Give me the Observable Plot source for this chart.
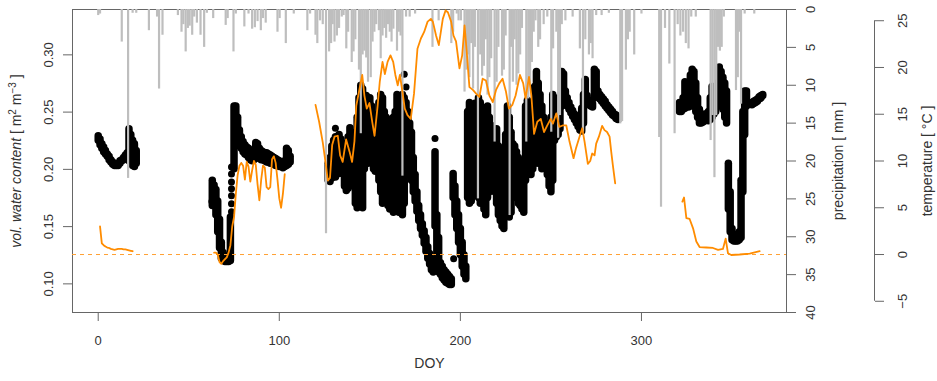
<!DOCTYPE html>
<html><head><meta charset="utf-8">
<script src="https://cdn.jsdelivr.net/npm/d3@7"></script>
<script src="https://cdn.jsdelivr.net/npm/@observablehq/plot@0.6"></script>
<style>
body{margin:0;background:#fff;}
#chart{position:relative;width:937px;height:381px;}
#chart svg{position:absolute;left:0;top:0;}
</style></head><body><div id="chart"></div>
<script>
// ---- tick values ----
const doyTicks = [0, 100, 200, 300];
const smTicks = [0.10, 0.15, 0.20, 0.25, 0.30];
const precipTicks = [0, 5, 10, 15, 20, 25, 30, 35, 40];
const tempTicks = [-5, 0, 5, 10, 15, 20, 25];

// ---- volumetric water content: daily range (lo..hi) ----
const smDoy = [0,1,2,3,4,5,6,7,8,9,10,11,12,13,14,15,16,17,18,19,20,21,
 63,64,65,66,67,68,69,70,71,72,73,75,76,77,78,79,80,81,82,83,84,85,86,87,88,89,90,91,92,93,94,95,96,97,98,99,100,101,102,103,104,105,106,
 127,128,129,130,131,132,133,134,135,136,137,138,139,140,141,142,143,144,145,146,147,148,149,150,151,152,153,154,155,156,157,158,159,160,161,162,163,164,165,166,167,168,169,170,171,172,173,174,175,176,177,178,179,180,181,182,183,184,185,186,187,188,189,190,191,192,193,194,195,196,197,198,199,200,201,202,203,
 204,205,206,207,208,209,210,211,212,213,214,215,216,217,218,219,220,221,222,223,224,225,226,227,228,229,230,231,232,233,234,235,236,237,238,239,240,241,242,243,244,245,246,247,248,249,
 250,251,252,253,254,255,256,257,258,259,260,261,262,263,264,265,266,267,268,269,270,271,272,273,274,275,276,277,278,279,280,281,282,283,284,285,286,287,
 321,322,323,324,325,326,327,328,329,330,331,332,333,334,335,336,337,338,339,340,341,342,343,344,345,346,347,348,349,350,351,352,353,354,355,356,357,358,
 361,362,363,364,365,366,367];
const smLo = [0.225,0.221,0.218,0.215,0.213,0.211,0.208,0.206,0.204,0.203,0.203,0.203,0.205,0.207,0.208,0.210,0.211,0.207,0.205,0.203,0.202,0.205,
 0.168,0.170,0.160,0.145,0.131,0.122,0.120,0.119,0.119,0.119,0.120,0.200,0.235,0.225,0.220,0.218,0.215,0.213,0.212,0.210,0.208,0.207,0.208,0.210,0.210,0.209,0.208,0.208,0.207,0.206,0.206,0.205,0.205,0.204,0.203,0.203,0.202,0.202,0.201,0.202,0.203,0.204,0.206,
 0.190,0.189,0.192,0.195,0.193,0.198,0.196,0.200,0.199,0.185,0.181,0.183,0.196,0.200,0.185,0.170,0.166,0.190,0.168,0.166,0.200,0.210,0.205,0.215,0.212,0.200,0.198,0.205,0.190,0.180,0.170,0.180,0.175,0.168,0.165,0.170,0.162,0.175,0.168,0.162,0.170,0.160,0.170,0.195,0.200,0.198,0.190,0.180,0.172,0.163,0.155,0.148,0.142,0.135,0.128,0.122,0.117,0.112,0.110,0.150,0.118,0.110,0.108,0.105,0.103,0.101,0.100,0.099,0.099,0.175,0.160,0.148,0.136,0.125,0.115,0.108,0.104,
 0.175,0.170,0.172,0.178,0.185,0.190,0.175,0.170,0.180,0.165,0.160,0.175,0.180,0.190,0.185,0.180,0.170,0.160,0.155,0.150,0.148,0.160,0.165,0.158,0.162,0.175,0.180,0.175,0.170,0.168,0.165,0.162,0.190,0.195,0.200,0.195,0.200,0.205,0.210,0.205,0.205,0.200,0.210,0.205,0.195,0.185,
 0.180,0.190,0.225,0.228,0.230,0.235,0.255,0.258,0.258,0.255,0.252,0.249,0.246,0.243,0.240,0.237,0.234,0.233,0.240,0.258,0.258,0.256,0.255,0.254,0.262,0.265,0.263,0.261,0.259,0.257,0.255,0.253,0.251,0.249,0.247,0.246,0.244,0.243,
 0.250,0.250,0.252,0.253,0.255,0.254,0.255,0.262,0.258,0.250,0.245,0.240,0.240,0.241,0.242,0.243,0.242,0.243,0.245,0.248,0.250,0.255,0.258,0.255,0.252,0.245,0.240,0.165,0.145,0.138,0.137,0.137,0.137,0.138,0.140,0.180,0.230,0.255,
 0.256,0.257,0.258,0.259,0.261,0.262,0.264];
const smHi = [0.229,0.226,0.222,0.219,0.216,0.213,0.211,0.208,0.206,0.204,0.204,0.205,0.207,0.208,0.210,0.212,0.214,0.235,0.230,0.225,0.222,0.216,
 0.190,0.186,0.182,0.172,0.156,0.136,0.127,0.124,0.123,0.124,0.158,0.255,0.255,0.245,0.234,0.228,0.224,0.221,0.219,0.218,0.216,0.214,0.215,0.223,0.222,0.218,0.216,0.215,0.214,0.214,0.213,0.212,0.211,0.210,0.209,0.208,0.207,0.206,0.206,0.207,0.218,0.216,0.211,
 0.205,0.210,0.220,0.225,0.228,0.228,0.230,0.226,0.222,0.215,0.222,0.228,0.236,0.232,0.228,0.230,0.245,0.262,0.273,0.270,0.262,0.264,0.258,0.262,0.255,0.248,0.238,0.240,0.258,0.265,0.262,0.250,0.245,0.243,0.240,0.236,0.245,0.250,0.265,0.255,0.248,0.265,0.262,0.258,0.250,0.240,0.232,0.210,0.195,0.180,0.168,0.160,0.152,0.146,0.140,0.132,0.126,0.121,0.118,0.215,0.160,0.140,0.118,0.115,0.112,0.110,0.108,0.106,0.104,0.196,0.185,0.172,0.160,0.148,0.136,0.125,0.115,
 0.250,0.258,0.255,0.250,0.240,0.235,0.262,0.258,0.240,0.225,0.215,0.255,0.245,0.238,0.232,0.228,0.235,0.220,0.215,0.212,0.205,0.230,0.255,0.245,0.232,0.222,0.220,0.215,0.210,0.205,0.200,0.195,0.255,0.260,0.250,0.245,0.238,0.272,0.285,0.275,0.265,0.255,0.245,0.240,0.235,0.232,
 0.245,0.265,0.262,0.255,0.250,0.262,0.285,0.283,0.268,0.262,0.258,0.254,0.251,0.248,0.245,0.242,0.239,0.253,0.265,0.278,0.264,0.260,0.258,0.257,0.287,0.285,0.268,0.265,0.263,0.261,0.259,0.256,0.254,0.252,0.250,0.248,0.247,0.245,
 0.258,0.256,0.262,0.276,0.272,0.262,0.282,0.287,0.285,0.275,0.262,0.252,0.248,0.247,0.248,0.248,0.250,0.262,0.272,0.268,0.262,0.275,0.289,0.285,0.280,0.275,0.268,0.205,0.180,0.148,0.143,0.142,0.142,0.145,0.190,0.250,0.268,0.268,
 0.258,0.259,0.260,0.261,0.263,0.264,0.265];
// isolated readings
const smDotDoy = [62.8, 73.6,73.6,73.6,73.6,73.6,73.6,73.6, 131, 169, 170, 186, 196.3, 208];
const smDotVal = [0.172, 0.202,0.196,0.189,0.183,0.177,0.170,0.163, 0.236, 0.283, 0.272, 0.227, 0.122, 0.258];

// ---- air temperature (daily); null = no data ----
const tempDoy = [1,2,3,4,5,6,7,8,9,10,11,12,13,14,15,16,17,18,19, 19.5,
 64,65,66,67,68,69,70,71,72,73,74,75,76,77,78,79,80,81,82,83,84,85,86,87,88,89,90,91,92,93,94,95,96,97,98,99,100,101,102,103, 110,
 120,122,124,125.5,126.8,128,129.2,130.5,132.3,133.6,135,136.9,138.8,140.2,141.5,142.5,144.3,145.8,147,148.3,149.8,151.3,152.6,154.3,155.5,157,158.3,159.8,161.4,162.9,164.1,165.4,166.6,168,169.3,170.8,172.6,174.4,176.3,178.2,180,181.9,183.7,184.8,186.6,188.1,190.3,191.8,193.1,194.9,196.2,197.6,199.5,201,202.3,203.5,205,206.9,208.7,210.5,212.3,214.1,216,217.9,219.7,221.5,223.3,225.2,226.8,228.7,230.5,232.9,234.7,236,237.9,239.2,240.7,242.5,244.4,246.2,248,249.9,251.1,253,254.6,256.5,258.5,260.3,262.5,263.9,265.8,267.3,268.6,270.4,271.7,272.8,274.1,275,276.5,278.3,279.6,281,282.4,283.3,284.2,285.5, 300,
 322.6,323.5,324.8,326.6,328.5,330.3,332.1,335.8,339.5,342.3,345,346.5,347.8,349.6,354.2,359.8,365.3];
const tempVal = [3.0,1.2,1.0,0.85,0.75,0.7,0.6,0.55,0.5,0.55,0.6,0.6,0.6,0.55,0.55,0.5,0.45,0.4,0.35, null,
 0.2,0.2,0.0,-0.8,-1.0,-0.7,-0.5,-0.3,0.2,1.0,3.0,4.0,6.5,8.5,9.5,9.8,9.5,8.0,9.9,9.4,7.8,9.0,10.0,9.6,7.5,5.8,8.0,9.5,9.3,7.2,7.0,7.2,10.2,10.5,9.8,8.0,6.0,5.0,6.5,8.6, null,
 16.0,14.2,12.0,9.9,7.9,8.2,11.7,12.6,12.7,10.6,9.9,12.3,11.0,9.9,12.1,15.9,17.7,19.2,17.0,15.6,16.2,14.2,12.7,15.9,18.5,20.6,19.3,20.6,21.3,20.6,19.2,18.1,19.2,17.4,15.6,14.9,14.5,17.2,22.0,23.1,23.8,24.9,25.2,24.9,23.4,22.4,25.2,26.1,25.9,24.9,23.4,22.8,19.9,21.3,24.5,21.7,17.9,17.6,17.2,16.85,18.8,18.6,17.0,16.3,17.6,18.3,18.8,17.4,15.6,16.0,17.0,19.2,18.3,16.7,19.0,17.0,12.9,14.2,14.5,13.1,13.8,14.5,14.0,15.1,13.65,13.8,13.8,12.05,10.3,11.4,12.6,13.5,12.05,9.7,10.0,10.8,10.6,11.85,12.6,13.76,13.3,13.1,12.6,11.0,9.55,7.6, null,
 5.65,6.1,3.9,3.8,2.8,1.4,0.8,0.75,0.7,0.5,0.6,1.7,0.13,-0.05,0.0,0.1,0.35];

// ---- precipitation (mm) ----
const precipDoy = [0,1,13,16.5,19,21,28,32.5,33.6,35.5,44,46,47,48.3,49.5,50.5,51.9,53,54.5,56.5,58.5,60,63.5,70.4,71.5,74.7,76,80.7,83,85,86.5,88,89.8,91,92.5,99,100.2,103.6,108,115.5,117,
 120,121,122.5,124,125.8,127.5,128.6,129.5,130.5,131.8,133,134.5,135.5,137,138,140,141,142,144,145,146,147,148,149,150.5,151.5,152.5,153.5,155,156,157,158,159,160,161,162,163,165,166,167,168,170,172,175,184.6,188,195,196,198,199,200.3,
 202.3,203.3,204.2,205,206,207,208,209.7,211,212,213,214,215,216,217,218.9,220,221,223,224,225,227.2,228,229,230,231,232,233,234,236.4,237.5,238.5,239.5,240.5,241.5,243,244,246,248,250.2,251.2,253,254,255,256,258,262,266,267.7,269,271,272,273,275,278,282,
 288.3,289.3,291.4,292.5,293.5,296,300,309.8,310.8,313,315.4,318.3,320,321.5,323,324.5,326,327.5,330,338.2,339.2,340.3,341.3,342.3,343.3,344.3,345.5,352.2,353.2,354,355,357,362.3];
const precipMm = [0.8,0.6,4.3,22.3,0.5,0.5,2.8,1.0,10.5,3.4,0.8,3.0,2.0,5.6,2.5,2.2,3.4,1.0,1.8,3.4,5.0,0.5,1.2,2.1,1.2,5.6,0.6,2.3,0.6,2.6,2.4,1.6,2.8,1.2,1.8,3.0,1.2,4.5,0.6,2.8,0.6,
 3.4,4.5,1.5,2.0,29.6,5.6,4.5,2.0,4.3,3.5,2.5,1.0,0.8,5.2,3.0,7.0,5.6,4.0,8.0,16.4,6.0,5.5,6.4,9.6,9.0,4.3,3.0,2.0,2.8,6.5,3.5,2.5,3.8,2.0,3.0,4.3,2.6,5.5,3.0,3.5,22.0,1.0,1.0,0.6,5.0,1.5,4.5,3.0,0.6,1.5,1.5,
 10.9,8.0,6.0,9.0,4.5,10.5,5.0,25.0,6.0,8.8,7.5,4.0,11.3,9.0,6.5,17.5,9.6,5.0,8.8,8.0,3.5,27.2,5.0,9.6,4.0,10.0,8.5,6.0,2.5,17.5,11.8,10.0,7.0,3.0,1.5,5.0,4.0,2.0,1.0,16.2,5.2,3.0,17.0,14.0,2.0,1.5,1.0,5.2,16.2,4.0,6.0,4.5,6.5,0.8,0.8,0.5,
 15.1,14.8,8.0,4.0,3.0,6.0,0.6,16.9,26.1,2.5,7.2,16.4,2.0,3.5,3.0,4.5,5.2,1.0,1.0,17.3,14.0,22.2,14.0,5.0,5.5,5.0,1.0,10.7,9.0,3.0,12.5,0.6,0.6];

// ---- build tables ----
const sm = smDoy.map((d, i) => ({doy: d, lo: smLo[i], hi: smHi[i]}));
const smDots = smDotDoy.map((d, i) => ({doy: d, v: smDotVal[i]}));
const temp = tempDoy.map((d, i) => ({doy: d, t: tempVal[i]}));
const precip = precipDoy.map((d, i) => ({doy: d, mm: precipMm[i]}));

const W = 937, H = 381;
const FONT = "'Liberation Sans', Arial, Helvetica, sans-serif";
const common = {
  width: W, height: H, marginLeft: 72, marginRight: 151, marginTop: 9, marginBottom: 69,
  style: {background: "transparent", fontFamily: FONT, fontSize: "13px", color: "#333", overflow: "visible"}
};
const xDom = {domain: [-14.2, 380.1], axis: null};
const AXC = "#666";

const p1 = Plot.plot({
  ...common,
  x: xDom,
  y: {domain: [0.075, 0.3396], axis: null},
  marks: [
    Plot.ruleX(sm, {x: "doy", y1: "lo", y2: "hi", stroke: "#000", strokeWidth: 7.5, strokeLinecap: "round"}),
    Plot.dot(smDots, {x: "doy", y: "v", r: 3.5, fill: "#000", stroke: null}),
    Plot.frame({stroke: AXC}),
    Plot.axisY(smTicks, {anchor: "left", tickSize: 9, tickPadding: 11, stroke: AXC, tickRotate: -90, textAnchor: "middle", lineAnchor: "bottom", tickFormat: d3.format(".2f"), label: null}),
    Plot.axisX(doyTicks, {anchor: "bottom", tickSize: 9, tickPadding: 14, stroke: AXC, label: null}),
    Plot.text(["DOY"], {text: d => d, frameAnchor: "bottom", dy: 46, lineAnchor: "top", fontSize: 14, fill: "#333"}),
    Plot.text(["vol. water content [ m2 m-3 ]"], {text: d => d, frameAnchor: "left", dx: -52, rotate: -90, textAnchor: "middle", lineAnchor: "bottom", fontSize: 14, fill: "#333"})
  ]
});

const p2 = Plot.plot({
  ...common,
  x: xDom,
  y: {domain: [0, 40], reverse: true, axis: null},
  marks: [
    Plot.ruleX(precip, {x: "doy", y1: 0, y2: "mm", stroke: "#BEBEBE", strokeWidth: 2.2}),
    Plot.axisY(precipTicks, {anchor: "right", tickSize: 9, tickPadding: 10, stroke: AXC, tickRotate: -90, textAnchor: "middle", lineAnchor: "top", label: null}),
    Plot.text(["precipitation [ mm ]"], {text: d => d, frameAnchor: "right", dx: 47, rotate: -90, textAnchor: "middle", lineAnchor: "top", fontSize: 14, fill: "#333"})
  ]
});

const p3 = Plot.plot({
  ...common,
  x: xDom,
  y: {domain: [-6.2, 26.2], axis: null},
  marks: [
    Plot.ruleY([0], {stroke: "#FFA033", strokeWidth: 1, strokeDasharray: "4,4"}),
    Plot.line(temp, {x: "doy", y: "t", stroke: "#FF8C00", strokeWidth: 1.8})
  ]
});

const p4 = Plot.plot({
  ...common,
  marginRight: 63,
  x: {domain: [0, 1], axis: null},
  y: {domain: [-6.2, 26.2], axis: null},
  marks: [
    Plot.ruleX([1], {y1: -5, y2: 25, stroke: AXC}),
    Plot.axisY(tempTicks, {anchor: "right", tickSize: 9, tickPadding: 14, stroke: AXC, tickRotate: -90, textAnchor: "middle", lineAnchor: "top", label: null}),
    Plot.text(["temperature [ \u00B0C ]"], {text: d => d, frameAnchor: "right", dx: 48, rotate: -90, textAnchor: "middle", lineAnchor: "top", fontSize: 14, fill: "#333"})
  ]
});

const host = document.getElementById("chart");
[p1, p2, p3, p4].forEach(p => host.appendChild(p));

// rich left title: italic part + superscripts
const tt = [...p1.querySelectorAll("text")].find(e => e.textContent.startsWith("vol."));
if (tt) {
  tt.textContent = "";
  const NS = "http://www.w3.org/2000/svg";
  const add = (s, attrs) => { const ts = document.createElementNS(NS, "tspan"); ts.textContent = s; for (const k in attrs) ts.setAttribute(k, attrs[k]); tt.appendChild(ts); };
  add("vol. water content", {"font-style": "italic"});
  add(" [ m");
  add("2", {"font-size": "10px", dy: "-5"});
  add(" m", {dy: "5"});
  add("\u22123", {"font-size": "10px", dy: "-5"});
  add(" ]", {dy: "5"});
}
</script></body></html>
